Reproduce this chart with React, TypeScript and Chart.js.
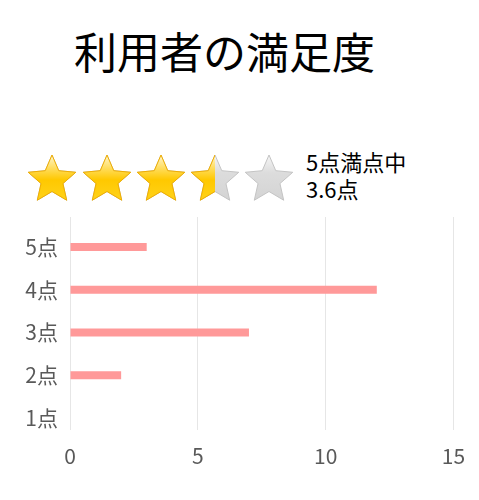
import React, { useEffect, useRef } from "react";
import { Chart, registerables } from "chart.js";

Chart.register(...registerables);

const TITLE = "利用者の満足度";
const categories = ["5点", "4点", "3点", "2点", "1点"];
const counts = [3, 12, 7, 2, 0];
const RATING = 3.6;
const MAX_STARS = 5;
const ratingLines = ["5点満点中", "3.6点"];
const xTicks = [0, 5, 10, 15];

const FONT = "'Noto Sans CJK JP', 'Noto Sans', sans-serif";

function starPoints(cx: number, cy: number, R: number, r: number) {
  const pts: string[] = [];
  for (let i = 0; i < 10; i++) {
    const rad = i % 2 === 0 ? R : r;
    const a = -Math.PI / 2 + (i * Math.PI) / 5;
    pts.push(`${(cx + rad * Math.cos(a)).toFixed(2)},${(cy + rad * Math.sin(a)).toFixed(2)}`);
  }
  return pts.join(" ");
}

function Stars() {
  const filled = Math.round(RATING * 2) / 2;
  const R = 25;
  const r = 11.5;
  const cy = 178;
  const centers = [52, 107, 161, 215, 269];
  return (
    <svg width={479} height={60} viewBox="0 148 479 60" style={{ position: "absolute", left: 0, top: 148 }}>
      <defs>
        <linearGradient id="gold" x1="0" y1="0" x2="0" y2="1">
          <stop offset="0" stopColor="#fff6d0" />
          <stop offset="0.3" stopColor="#ffdc5a" />
          <stop offset="0.55" stopColor="#ffc800" />
          <stop offset="1" stopColor="#ffd21a" />
        </linearGradient>
        <linearGradient id="grey" x1="0" y1="0" x2="0" y2="1">
          <stop offset="0" stopColor="#f6f6f6" />
          <stop offset="0.4" stopColor="#dcdcdc" />
          <stop offset="1" stopColor="#d4d4d4" />
        </linearGradient>
        {centers.map((cx, i) => (
          <clipPath id={`clip${i}`} key={i}>
            <rect x={cx - R - 2} y={cy - R - 2} width={2 + 2 * R * Math.max(0, Math.min(1, filled - i))} height={R * 2 + 4} />
          </clipPath>
        ))}
      </defs>
      {centers.slice(0, MAX_STARS).map((cx, i) => {
        const frac = Math.max(0, Math.min(1, filled - i));
        const pts = starPoints(cx, cy + 2, R, r);
        return (
          <g key={i}>
            <polygon points={pts} fill="url(#grey)" stroke="#c4c4c4" strokeWidth={1} strokeLinejoin="round" />
            {frac > 0 && (
              <g clipPath={`url(#clip${i})`}>
                <polygon points={pts} fill="url(#gold)" stroke="#f0ae00" strokeWidth={1} strokeLinejoin="round" />
              </g>
            )}
          </g>
        );
      })}
    </svg>
  );
}

export default function App() {
  const canvasRef = useRef<HTMLCanvasElement | null>(null);

  useEffect(() => {
    if (!canvasRef.current) return;
    const data = counts.map((v, i) => ({ x: v, y: i }));
    const chart = new Chart(canvasRef.current, {
      type: "bar",
      data: {
        datasets: [
          {
            data: data as any,
            backgroundColor: "#ff9999",
            borderWidth: 0,
            inflateAmount: 0,
            barThickness: 8,
          } as any,
        ],
      },
      options: {
        animation: false,
        responsive: false,
        indexAxis: "y",
        layout: { padding: { top: 17, bottom: 10, left: 0, right: 25.5 } },
        plugins: { legend: { display: false }, tooltip: { enabled: false } },
        scales: {
          x: {
            type: "linear",
            min: 0,
            max: 15,
            offset: false,
            afterBuildTicks: (scale: any) => {
              scale.ticks = xTicks.map((v) => ({ value: v }));
            },
            afterFit: (scale: any) => {
              scale.paddingLeft = 0;
              scale.paddingRight = 0;
              scale.height = 40;
            },
            grid: { color: "#e6e6e6", lineWidth: 1, drawTicks: false, offset: false },
            border: { display: false },
            ticks: {
              padding: 13,
              color: "#595959",
              font: { family: FONT, size: 21 },
            },
          },
          y: {
            type: "linear",
            reverse: true,
            min: -0.7,
            max: 4.28,
            offset: false,
            afterBuildTicks: (scale: any) => {
              scale.ticks = categories.map((_, i) => ({ value: i }));
            },
            afterFit: (scale: any) => {
              scale.width = 70;
              scale.paddingTop = 0;
              scale.paddingBottom = 0;
            },
            grid: { display: false, drawTicks: false, offset: false },
            border: { display: false },
            ticks: {
              padding: 12,
              color: "#595959",
              font: { family: FONT, size: 21 },
              callback: (v: any) => categories[Number(v)] ?? "",
            },
          },
        },
      },
    });
    return () => chart.destroy();
  }, []);

  return (
    <div style={{ position: "absolute", left: 0, top: 0, width: 479, height: 500, background: "#fff", fontFamily: FONT }}>
      <div
        style={{
          position: "absolute",
          left: 74,
          top: 29,
          fontSize: 43,
          lineHeight: "43px",
          color: "#000",
          whiteSpace: "nowrap",
        }}
      >
        {TITLE}
      </div>
      <Stars />
      <div style={{ position: "absolute", left: 306, top: 148, fontSize: 22, lineHeight: "27px", color: "#000", whiteSpace: "nowrap" }}>
        {ratingLines.map((t, i) => (
          <div key={i}>{t}</div>
        ))}
      </div>
      <canvas ref={canvasRef} width={479} height={280} style={{ position: "absolute", left: 0, top: 200, width: 479, height: 280 }} />
    </div>
  );
}
